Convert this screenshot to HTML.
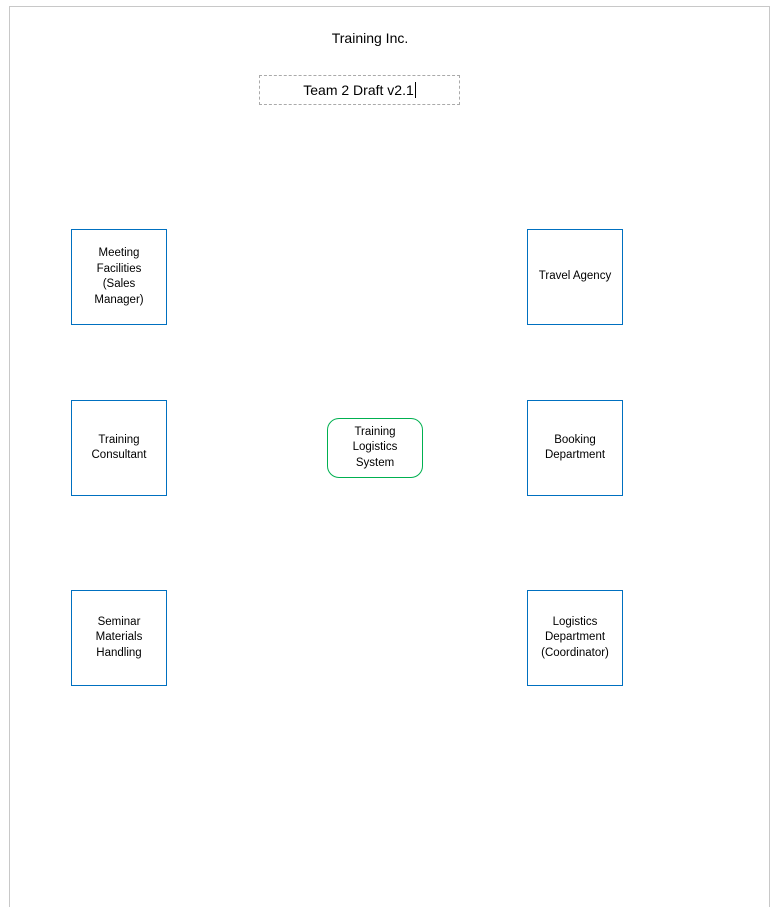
<!DOCTYPE html>
<html><head><meta charset="utf-8"><style>
body{margin:0;width:772px;height:897px;background:#fff;position:relative;overflow:hidden;font-family:"Liberation Sans",sans-serif;color:#000}
.pg{position:absolute;left:9px;top:6px;width:759px;height:900px;border:1px solid #c8c8c8;border-bottom:none}
.b{position:absolute;box-sizing:border-box;border:1px solid #0070c0;display:flex;align-items:center;justify-content:center;text-align:center;font-size:11.5px;line-height:15.5px;width:96px;height:96px}
</style></head><body>
<div class="pg"></div>
<div style="position:absolute;left:270px;top:30px;width:200px;text-align:center;font-size:14px">Training Inc.</div>
<div style="position:absolute;left:259px;top:75px;width:201px;height:30px;box-sizing:border-box;border:1px dashed #aaa;text-align:center;font-size:14px;line-height:28px">Team 2 Draft v2.1<span style="border-left:1px solid #000;margin-left:1px"></span></div>
<div class="b" style="left:71px;top:229px">Meeting<br>Facilities<br>(Sales<br>Manager)</div>
<div class="b" style="left:527px;top:229px">Travel Agency</div>
<div class="b" style="left:71px;top:400px">Training<br>Consultant</div>
<div class="b" style="left:527px;top:400px">Booking<br>Department</div>
<div class="b" style="left:71px;top:590px">Seminar<br>Materials<br>Handling</div>
<div class="b" style="left:527px;top:590px">Logistics<br>Department<br>(Coordinator)</div>
<div class="b" style="left:327px;top:418px;height:60px;border-color:#00b050;border-radius:12px">Training<br>Logistics<br>System</div>
</body></html>
